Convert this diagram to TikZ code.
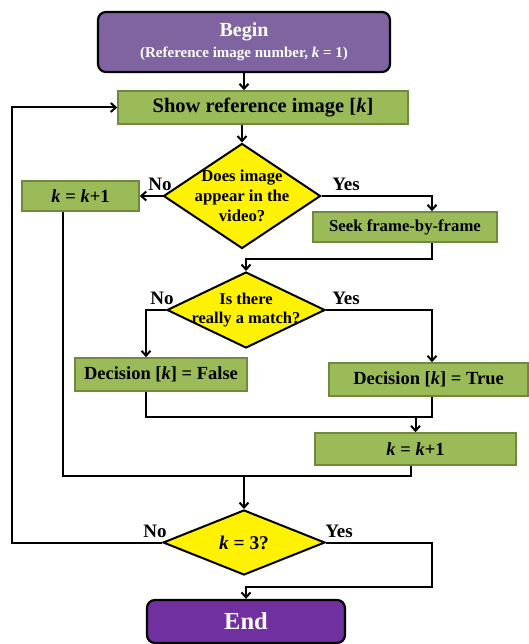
\documentclass[tikz,border=0pt]{standalone}
\usepackage{fontspec}
\setmainfont{Liberation Serif}
\usepackage{tikz}
\usetikzlibrary{shapes.geometric,arrows.meta,positioning}

\definecolor{beginpurple}{HTML}{8064A2}
\definecolor{endpurple}{HTML}{7030A0}
\definecolor{boxgreen}{HTML}{9BBB59}
\definecolor{boxedge}{HTML}{71893F}

\newcommand{\fs}[1]{\fontsize{#1}{1.2\dimexpr#1pt\relax}\selectfont\bfseries}

\begin{document}
\begin{tikzpicture}[
    x=1pt, y=-1pt,
    box/.style={rectangle, draw=boxedge, fill=boxgreen, line width=1.5pt, inner sep=0pt, align=center},
    term/.style={rectangle, rounded corners=8pt, draw, line width=2.2pt, text=white, inner sep=0pt, align=center},
    decision/.style={diamond, draw, fill=yellow, line width=2pt, inner sep=0pt, align=center},
    lbl/.style={inner sep=0pt, font=\fs{19}},
    line/.style={line width=2pt},
    arr/.style={line, -{Straight Barb[length=5pt, width=9pt]}},
]
    \useasboundingbox (0,0) rectangle (529,644);

    \node[term, fill=beginpurple, minimum width=292pt, minimum height=60pt] (begin) at (244,42)
        {{\fs{20}Begin}\\[5pt]{\fs{15}(Reference image number, \textit{k} = 1)}};
    \node[box, minimum width=290pt, minimum height=33pt, font=\fs{20.5}] (show) at (263,107.5)
        {Show reference image [\textit{k}]};
    \node[decision, minimum width=157pt, minimum height=105pt, aspect=1.5, inner sep=-4pt, font=\fs{16.7}] (dec1) at (242,196)
        {Does image\\appear in the\\video?};
    \node[box, minimum width=117pt, minimum height=30pt, font=\fs{18.5}] (kinc1) at (80.5,196)
        {\textit{k} = \textit{k}+1};
    \node[box, minimum width=184pt, minimum height=30pt, font=\fs{16.7}] (seek) at (405,227)
        {Seek frame-by-frame};
    \node[decision, minimum width=158pt, minimum height=76pt, aspect=2.08, inner sep=-5pt, font=\fs{16.5}] (dec2) at (246,310)
        {Is there\\really a match?};
    \node[box, minimum width=172pt, minimum height=33pt, font=\fs{18.5}] (false) at (161,374.5)
        {Decision [\textit{k}] = False};
    \node[box, minimum width=199pt, minimum height=33pt, font=\fs{18.5}] (true) at (428.5,379.5)
        {Decision [\textit{k}] = True};
    \node[box, minimum width=201pt, minimum height=32pt, font=\fs{18.5}] (kinc2) at (415.5,449)
        {\textit{k} = \textit{k}+1};
    \node[decision, minimum width=162pt, minimum height=65pt, aspect=2.5, font=\fs{19.4}] (dec3) at (244,542.5)
        {\textit{k} = 3?};
    \node[term, fill=endpurple, minimum width=198pt, minimum height=43pt, font=\fs{24.5}] (end) at (246,621.5)
        {End};

    % answer labels
    \node[lbl] (no1) at (160,184) {No};
    \node[lbl] (yes1) at (346,184) {Yes};
    \node[lbl] (no2) at (162,298) {No};
    \node[lbl] (yes2) at (346,298) {Yes};
    \node[lbl] (no3) at (155,531) {No};
    \node[lbl] (yes3) at (339,531) {Yes};

    % turning points
    \coordinate (rx) at (432,0);
    \coordinate (fx) at (146,0);
    \coordinate (lx) at (12,0);
    \coordinate (j1) at (243,259);
    \coordinate (j2) at (300,417);
    \coordinate (j3) at (243,476);
    \coordinate (j4) at (432,587);

    \draw[arr] (begin.south) -- (begin.south |- show.north);
    \draw[arr] (dec1.north |- show.south) -- (dec1.north);
    \draw[arr] (dec1.west) -- (kinc1.east);
    \draw[arr] (dec1.east) -| (rx |- seek.north);
    \draw[arr] (rx |- seek.south) -- (rx |- j1) -| (dec2.north);
    \draw[arr] (dec2.west) -| (fx |- false.north);
    \draw[arr] (dec2.east) -| (rx |- true.north);
    \draw[line] (fx |- false.south) |- (j2) -| (rx |- true.south);
    \draw[arr] (kinc2.north |- j2) -- (kinc2.north);
    \draw[line] ([xshift=-18pt]kinc1.south) |- (j3) -| ([xshift=-5pt]kinc2.south);
    \draw[arr] (dec3.north |- j3) -- (dec3.north);
    \draw[arr] (dec3.west) -| (lx |- show.west) -- (show.west);
    \draw[arr] (dec3.east) -| (j4) -| (end.north);
\end{tikzpicture}
\end{document}
